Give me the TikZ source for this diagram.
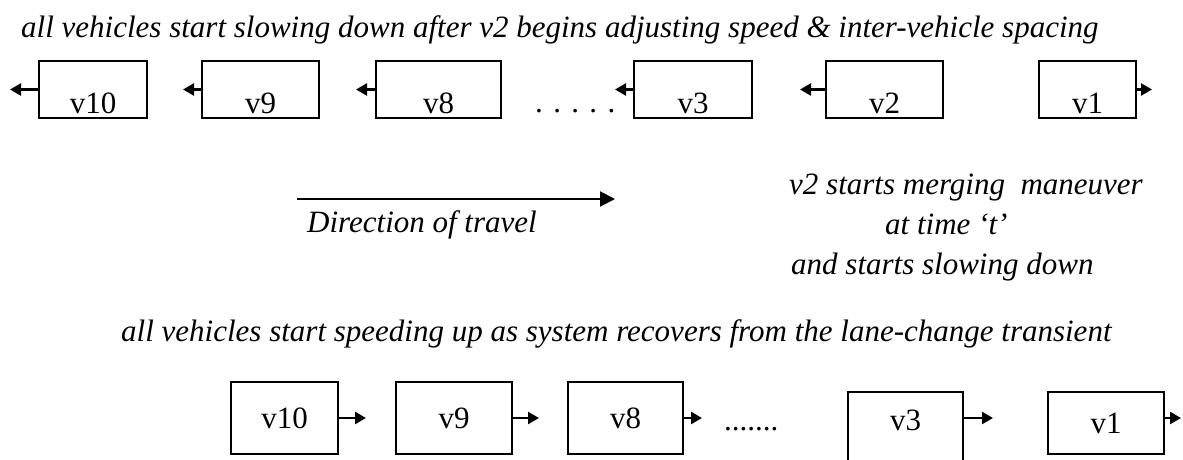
\documentclass[tikz,border=0pt]{standalone}
\usepackage{fontspec}
\setmainfont{Liberation Serif}
\usetikzlibrary{arrows.meta}
\begin{document}
\begin{tikzpicture}[x=1pt,y=-1pt,font=\fontsize{31}{37}\selectfont,
  car/.style={rectangle,draw,line width=2.4pt,inner sep=0pt,minimum height=57pt,text height=52pt,text depth=5pt},
  low/.style={rectangle,draw,line width=2.2pt,inner sep=0pt,minimum height=72pt},
  arr/.style={draw,line width=2.4pt,-{Triangle[length=11pt,width=12pt]}},
  dir/.style={draw,line width=2pt,-{Triangle[length=15pt,width=15pt]}},
  note/.style={anchor=base west,inner sep=0pt,font=\fontsize{31}{37}\selectfont\itshape},
  dots/.style={anchor=base west,inner sep=0pt}]
\useasboundingbox (0,0) rectangle (1183,460);
\draw (21,38) node[note] (slow) {all vehicles start slowing down after v2 begins adjusting speed \& inter-vehicle spacing};
\draw (93,89.5) node[car,minimum width=108pt] (a10) {v10};
\draw (260.5,89.5) node[car,minimum width=117pt] (a9) {v9};
\draw (438.5,89.5) node[car,minimum width=125pt] (a8) {v8};
\draw (535,112) node[dots] (gap1) {. . . . .};
\draw (693,89.5) node[car,minimum width=118pt] (a3) {v3};
\draw (884.5,89.5) node[car,minimum width=117pt] (a2) {v2};
\draw (1087.5,89.5) node[car,minimum width=97pt] (a1) {v1};
\coordinate (ta10) at (10,89.5);
\coordinate (ta9) at (183,89.5);
\coordinate (ta8) at (356,89.5);
\coordinate (ta3) at (615,89.5);
\coordinate (ta2) at (800,89.5);
\coordinate (ta1) at (1152,89.5);
\path (a10.west) edge[arr] (ta10);
\path (a9.west) edge[arr] (ta9);
\path (a8.west) edge[arr] (ta8);
\path (a3.west) edge[arr] (ta3);
\path (a2.west) edge[arr] (ta2);
\path (a1.east) edge[arr] (ta1);
\coordinate (d0) at (297,199);
\coordinate (d1) at (615,199);
\path (d0) edge[dir] (d1);
\draw (307,232) node[note] (travel) {Direction of travel};
\draw (789,194) node[note] (m1) {v2 starts merging~ maneuver};
\draw (885,234) node[note] (m2) {at time ‘t’};
\draw (791,274) node[note] (m3) {and starts slowing down};
\draw (121,341) node[note] (fast) {all vehicles start speeding up as system recovers from the lane-change transient};
\draw (284.5,418) node[low,minimum width=107pt] (b10) {v10};
\draw (454,418) node[low,minimum width=116pt] (b9) {v9};
\draw (625.5,418) node[low,minimum width=115pt] (b8) {v8};
\draw (724,430) node[dots] (gap2) {.......};
\draw (905.5,428) node[low,minimum width=115pt,text height=38pt,text depth=34pt] (b3) {v3};
\draw (1106,423) node[low,minimum width=116pt,minimum height=62pt] (b1) {v1};
\coordinate (tb10) at (366,418);
\coordinate (tb9) at (539,418);
\coordinate (tb8) at (702,418);
\coordinate (tb3) at (993,418);
\coordinate (tb1) at (1181,418);
\path (b10.east) edge[arr] (tb10);
\path (b9.east) edge[arr] (tb9);
\path (b8.east) edge[arr] (tb8);
\path (b3.east |- tb3) edge[arr] (tb3);
\path (b1.east |- tb1) edge[arr] (tb1);
\end{tikzpicture}
\end{document}
